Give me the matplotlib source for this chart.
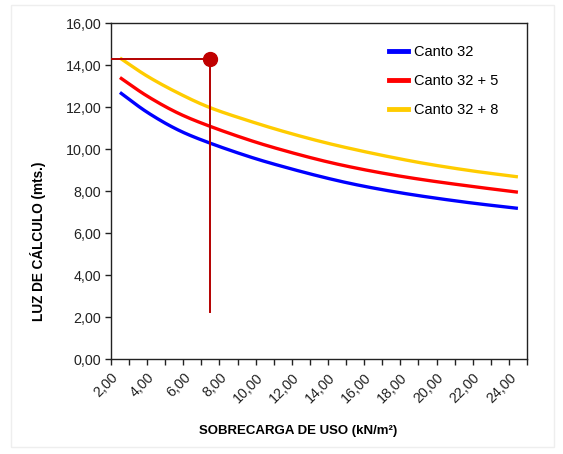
import numpy as np
import matplotlib
matplotlib.use('Agg')
import matplotlib.pyplot as plt
from matplotlib.lines import Line2D

plt.rcParams['font.family'] = ['Liberation Sans', 'DejaVu Sans']

# Values
sobrecarga = [2.5, 4.0, 5.7, 7.5, 9.8, 11.8, 13.8, 15.6, 17.6, 19.6, 22.0, 24.5]
canto_32 = [12.70, 11.76, 10.92, 10.28, 9.60, 9.10, 8.65, 8.30, 7.98, 7.71, 7.43, 7.18]
canto_32_5 = [13.41, 12.53, 11.72, 11.08, 10.39, 9.88, 9.43, 9.09, 8.77, 8.50, 8.22, 7.95]
canto_32_8 = [14.34, 13.48, 12.68, 11.97, 11.30, 10.78, 10.32, 9.96, 9.60, 9.28, 8.96, 8.68]
series_names = ['Canto 32', 'Canto 32 + 5', 'Canto 32 + 8']

# reading point marked on the chart
punto_x = 7.5
punto_y = 14.3
linea_min = 2.25

x_ticks = np.arange(2, 25, 2)
y_ticks = np.arange(0, 17, 2)


def smooth(xs, ys, n=20):
    # Catmull-Rom curve through the points, like a smoothed Excel line
    xs = np.asarray(xs, float)
    ys = np.asarray(ys, float)
    px = np.concatenate([[2 * xs[0] - xs[1]], xs, [2 * xs[-1] - xs[-2]]])
    py = np.concatenate([[2 * ys[0] - ys[1]], ys, [2 * ys[-1] - ys[-2]]])
    out_x, out_y = [], []
    t = np.linspace(0, 1, n, endpoint=False)
    for i in range(1, len(px) - 2):
        for arr, out in ((px, out_x), (py, out_y)):
            p0, p1, p2, p3 = arr[i - 1:i + 3]
            out.extend(0.5 * (2 * p1 + (-p0 + p2) * t
                              + (2 * p0 - 5 * p1 + 4 * p2 - p3) * t ** 2
                              + (-p0 + 3 * p1 - 3 * p2 + p3) * t ** 3))
    out_x.append(xs[-1])
    out_y.append(ys[-1])
    return out_x, out_y


fig = plt.figure(figsize=(5.63, 4.54), dpi=100)
ax = fig.add_axes([0.197, 0.209, 0.739, 0.740])

colors = ['#0000FF', '#FF0000', '#FFCC00']
for ys, c in zip([canto_32, canto_32_5, canto_32_8], colors):
    sx, sy = smooth(sobrecarga, ys)
    ax.plot(sx, sy, color=c, lw=2.4, solid_capstyle='butt', zorder=3)

mark_color = '#B40000'
ax.plot([2, punto_x], [punto_y, punto_y], color=mark_color, lw=1.4, zorder=4)
ax.plot([punto_x, punto_x], [punto_y, linea_min], color=mark_color, lw=1.4, zorder=4)
ax.plot([punto_x], [punto_y], 'o', color='#C00000', ms=10, zorder=5)

ax.set_xlim(2, 25)
ax.set_ylim(0, 16)
ax.set_xticks(x_ticks)
ax.set_xticks(np.arange(3, 26, 2), minor=True)
ax.set_yticks(y_ticks)
ax.set_xticklabels([f'{v:.2f}'.replace('.', ',') for v in x_ticks],
                   rotation=45, ha='right', rotation_mode='anchor')
ax.set_yticklabels([f'{v:.2f}'.replace('.', ',') for v in y_ticks])
ax.tick_params(axis='both', which='both', direction='out', length=4,
               width=1, labelsize=10.3, colors='#222222', pad=3)
ax.tick_params(axis='x', which='major', pad=4)
for s in ax.spines.values():
    s.set_linewidth(1.0)
    s.set_color('#222222')

ax.set_xlabel('SOBRECARGA DE USO (kN/m²)', fontsize=9.5, fontweight='bold')
ax.xaxis.set_label_coords(0.45, -0.195)
ax.set_ylabel('LUZ DE CÁLCULO (mts.)', fontsize=9.8, fontweight='bold')
ax.yaxis.set_label_coords(-0.155, 0.35)

handles = [Line2D([0], [0], color=c, lw=3.5) for c in colors]
ax.legend(handles, series_names, loc='upper right', frameon=False, fontsize=10.5,
          handlelength=1.3, handletextpad=0.45, labelspacing=1.05,
          bbox_to_anchor=(0.963, 0.975))

# faint outer frame of the original picture
fig.patches.append(plt.Rectangle((0.019, 0.015), 0.965, 0.975, transform=fig.transFigure,
                                 fill=False, edgecolor='#eeeeee', lw=1))

fig.savefig('out.png', dpi=100)
